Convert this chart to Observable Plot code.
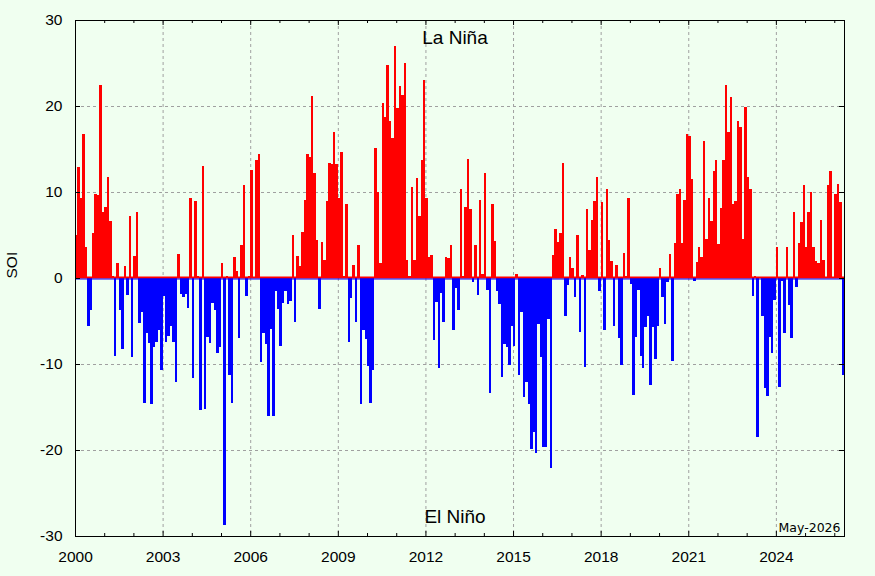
<!DOCTYPE html>
<html>
<head>
<meta charset="utf-8">
<script src="https://cdn.jsdelivr.net/npm/d3@7"></script>
<script src="https://cdn.jsdelivr.net/npm/@observablehq/plot@0.6"></script>
<style>
  html, body { margin: 0; padding: 0; background: #f0fff0; }
  #chart svg { display: block; }
</style>
</head>
<body>
<div id="chart"></div>
<script>
// Monthly SOI values, Jan..Dec of each year
const y2000 = [5.0, 12.9, 9.3, 16.7, 3.6, -5.6, -3.7, 5.2, 9.8, 9.6, 22.4, 7.7];
const y2001 = [8.3, 11.8, 6.6, 0.2, -9.1, 1.7, -3.7, -8.3, 1.4, -2.0, 7.2, -9.2];
const y2002 = [2.6, 7.7, -5.2, -3.9, -14.5, -6.4, -7.6, -14.6, -8.0, -7.4, -6.0, -10.7];
const y2003 = [-2.1, -7.4, -6.8, -5.6, -7.4, -12.1, 2.8, -1.9, -2.2, -1.9, -3.5, 9.3];
const y2004 = [-11.6, 9.0, 0.2, -15.4, 13.0, -15.2, -6.9, -7.6, -2.9, -3.7, -8.7, -8.0];
const y2005 = [1.7, -28.7, 0.2, -11.3, -14.5, 2.5, 0.8, -7.0, 3.8, 10.8, -2.1, 0.2];
const y2006 = [12.6, 0.1, 13.7, 14.4, -9.8, -6.4, -7.7, -16.0, -5.9, -16.0, -1.5, -3.6];
const y2007 = [-7.9, -2.9, -1.5, -3.0, -2.7, 5.0, -5.1, 2.6, 1.4, 5.3, 9.1, 14.4];
const y2008 = [14.1, 21.2, 12.2, 4.4, -3.6, 4.2, 2.1, 9.0, 13.4, 13.3, 17.0, 13.2];
const y2009 = [9.3, 14.7, 0.2, 8.6, -7.4, -2.3, 1.5, -5.1, 3.8, -14.7, -6.0, -7.1];
const y2010 = [-10.2, -14.5, -10.7, 15.1, 10.0, 1.7, 20.4, 18.7, 24.8, 18.2, 16.3, 27.0];
const y2011 = [19.8, 22.3, 21.3, 25.0, 2.1, 0.2, 10.6, 2.1, 11.6, 7.2, 13.7, 23.0];
const y2012 = [9.3, 2.4, 2.7, -7.2, -2.8, -10.5, -1.8, -5.1, 2.5, 2.3, 3.8, -6.0];
const y2013 = [-1.2, -3.7, 10.4, 0.2, 8.3, 13.8, 8.0, -0.5, 3.8, -2.0, 9.1, 0.5];
const y2014 = [12.2, -1.4, -13.4, 8.6, 4.3, -1.5, -3.0, -11.5, -7.7, -8.0, -10.1, -5.6];
const y2015 = [-7.9, 0.5, -11.3, -3.9, -13.8, -12.1, -14.7, -19.9, -17.9, -20.3, -5.3, -9.2];
const y2016 = [-19.7, -19.7, -4.8, -22.1, 2.7, 5.7, 4.2, 5.2, 13.4, -4.4, -0.8, 2.5];
const y2017 = [1.2, -2.2, 5.0, -6.3, 0.4, -10.4, 8.0, 3.3, 6.8, 9.0, 11.7, -1.5];
const y2018 = [8.8, -6.0, 10.4, 4.4, 2.0, -5.6, 1.5, -7.0, -10.1, 2.9, 0.2, 9.3];
const y2019 = [-0.7, -13.6, -6.9, -1.4, -9.1, -10.5, -5.7, -4.4, -12.4, -5.7, -9.4, -5.6];
const y2020 = [1.2, -2.2, -5.3, -0.5, 2.8, -9.7, 4.1, 9.8, 10.4, 4.1, 9.1, 16.8];
const y2021 = [16.5, 11.5, -0.4, 1.9, 3.6, 2.5, 15.9, 4.5, 9.3, 6.6, 12.4, 13.7];
const y2022 = [4.0, 8.1, 13.7, 22.5, 17.0, 21.1, 8.6, 9.0, 18.2, 17.6, 4.5, 19.9];
const y2023 = [11.7, 10.4, -2.1, 0.2, -18.5, 0.1, -4.4, -12.8, -13.7, -6.9, -8.7, -2.5];
const y2024 = [3.6, -12.7, -0.4, -6.4, 3.6, -3.1, -7.0, 7.7, -1.0, 4.1, 6.5, 10.8];
const y2025 = [3.6, 7.7, 10.0, 3.6, 2.0, 1.7, 6.7, 2.1, 0.1, 10.8, 12.4, 0.1];
const y2026 = [9.8, 10.9, 8.8, -11.3];

const startYear = 2000;
const yearRows = [y2000, y2001, y2002, y2003, y2004, y2005, y2006, y2007, y2008, y2009,
  y2010, y2011, y2012, y2013, y2014, y2015, y2016, y2017, y2018, y2019,
  y2020, y2021, y2022, y2023, y2024, y2025, y2026];

const xTickLabels = [2000, 2003, 2006, 2009, 2012, 2015, 2018, 2021, 2024];
const yTickLabels = [-30, -20, -10, 0, 10, 20, 30];
const gridYears = [2003, 2006, 2009, 2012, 2015, 2018, 2021, 2024];
const gridSoi = [-20, -10, 10, 20];
const minorYears = [2001, 2002, 2004, 2005, 2007, 2008, 2010, 2011, 2013, 2014, 2016, 2017,
  2019, 2020, 2022, 2023, 2025, 2026];

const data = yearRows.flatMap((row, k) => row.map((v, m) => {
  const t = startYear + k + m / 12;
  return {t, t2: t + 1 / 12, v, c: v > 0 ? "#ff0000" : "#0000ff"};
}));
const nMonths = data.length;
const xEnd = startYear + nMonths / 12;

const W = 875, H = 576;
const mL = 75, mR = 31, mT = 20, mB = 40;
// pixel -> data unit helpers for tick lengths
const pxX = (xEnd - startYear) / (W - mL - mR);
const pxY = 60 / (H - mT - mB);

const font = "'Liberation Sans', Arial, sans-serif";

const chart = Plot.plot({
  width: W, height: H,
  marginLeft: mL, marginRight: mR, marginTop: mT, marginBottom: mB,
  style: {background: "#f0fff0", fontFamily: font, fontSize: "15.5px", color: "black"},
  x: {domain: [startYear, xEnd], axis: null},
  y: {domain: [-30, 30], axis: null},
  color: {type: "identity"},
  marks: [
    Plot.ruleX(gridYears, {stroke: "#a0a0a0", strokeWidth: 1, strokeDasharray: "3,3"}),
    Plot.ruleY(gridSoi, {stroke: "#a0a0a0", strokeWidth: 1, strokeDasharray: "3,3"}),
    Plot.rectY(data, {x1: "t", x2: "t2", y: "v", fill: "c", shapeRendering: "crispEdges"}),
    Plot.ruleY([0], {stroke: "#ff0000", strokeWidth: 2, dy: -1}),
    Plot.ruleY([0], {stroke: "#0000ff", strokeWidth: 1, dy: 0.5}),
    // inward ticks
    Plot.ruleX(gridYears, {y1: -30, y2: -30 + 5 * pxY, stroke: "black"}),
    Plot.ruleX(gridYears, {y1: 30 - 5 * pxY, y2: 30, stroke: "black"}),
    Plot.ruleX(minorYears, {y1: -30, y2: -30 + 3 * pxY, stroke: "black"}),
    Plot.ruleX(minorYears, {y1: 30 - 3 * pxY, y2: 30, stroke: "black"}),
    Plot.ruleY([-20, -10, 0, 10, 20], {x1: startYear, x2: startYear + 5 * pxX, stroke: "black"}),
    Plot.ruleY([-20, -10, 0, 10, 20], {x1: xEnd - 5 * pxX, x2: xEnd, stroke: "black"}),
    Plot.frame({stroke: "black", strokeWidth: 1}),
    Plot.axisX({ticks: xTickLabels, tickSize: 0, tickPadding: 14, tickFormat: d => String(d),
      fontSize: 15.5, fontFamily: font, fill: "black"}),
    Plot.axisY({ticks: yTickLabels, tickSize: 0, tickPadding: 13, tickFormat: d => String(d),
      fontSize: 15.5, fontFamily: font, fill: "black", label: null}),
    Plot.text(["SOI"], {frameAnchor: "left", dx: -63, rotate: -90, fontSize: 15.5,
      fontFamily: font, fill: "black"}),
    Plot.text(["La Niña"], {frameAnchor: "top", dx: -5, dy: 17, fontSize: 19,
      fontFamily: font, fill: "black", lineAnchor: "middle"}),
    Plot.text(["El Niño"], {frameAnchor: "bottom", dx: -5, dy: -20, fontSize: 19,
      fontFamily: font, fill: "black", lineAnchor: "middle"}),
    Plot.text(["May-2026"], {frameAnchor: "bottom-right", dx: -4, dy: -9, fontSize: 12.5,
      fontFamily: "'DejaVu Sans', sans-serif", fill: "black", textAnchor: "end", lineAnchor: "middle"})
  ]
});
document.getElementById("chart").appendChild(chart);
</script>
</body>
</html>
